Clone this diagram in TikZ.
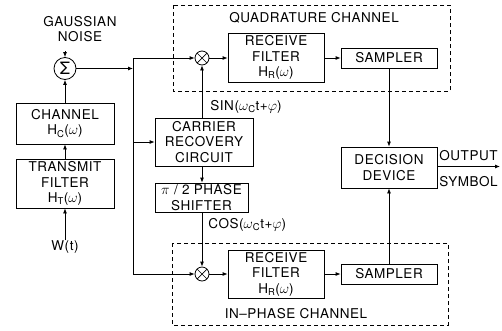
\documentclass[tikz,border=0pt]{standalone}
\usepackage{fontspec}
\setmainfont{TeX Gyre Heros}[LetterSpace=4]
\usetikzlibrary{arrows.meta}

\begin{document}
\begin{tikzpicture}[x=1pt,y=-1pt,
  font=\fontsize{13.5}{15.5}\selectfont,
  line width=0.8pt,
  >={Latex[length=5pt,width=4pt]},
  blk/.style={draw, rectangle, inner sep=0pt, align=center},
  dbox/.style={draw, dash pattern=on 4pt off 3pt, line width=0.7pt},
  mix/.style={draw, circle, minimum size=14pt, inner sep=0pt,
    path picture={\draw[line width=0.7pt]
      (path picture bounding box.north west) -- (path picture bounding box.south east)
      (path picture bounding box.north east) -- (path picture bounding box.south west);}},
  summer/.style={draw, circle, minimum size=22pt, inner sep=0pt,
    font=\fontsize{17}{17}\selectfont},
  lbl/.style={inner sep=0pt, align=center}
]
\useasboundingbox (0,0) rectangle (502,330);

% channel groupings
\draw[dbox] (173,5) rectangle (450,91);
\draw[dbox] (172,243) rectangle (448,325);
\node[lbl] (qlab) at (314,18) {QUADRATURE CHANNEL};
\node[lbl] (ilab) at (296,314) {IN–PHASE CHANNEL};

% transmitter side
\node[lbl] (gn) at (80,29) {GAUSSIAN\\NOISE};
\coordinate (gnb) at (65,51);
\node[summer] (sum) at (65,68.5) {Σ};
\node[blk, minimum width=98pt, minimum height=41pt] (ch) at (65,123.5)
  {CHANNEL\\H\textsubscript{C}($\omega$)};
\node[blk, minimum width=98pt, minimum height=49pt] (tf) at (65,183.5)
  {TRANSMIT\\FILTER\\H\textsubscript{T}($\omega$)};
\node[lbl] (w) at (65,247) {W(t)};

% receiver bus
\coordinate (bt) at (133,58);
\coordinate (bj) at (133,68.5);
\coordinate (bc) at (133,142);
\coordinate (bb) at (133,274);

% mixers and carrier path
\node[mix] (mq) at (202,58) {};
\node[mix] (mi) at (202,274) {};
\node[blk, minimum width=98pt, minimum height=48pt] (crc) at (204,142)
  {CARRIER\\RECOVERY\\CIRCUIT};
\node[blk, minimum width=93pt, minimum height=29pt] (ps) at (201.5,197.5)
  {$\pi$ / 2 PHASE\\SHIFTER};
\node[lbl, anchor=west] (sinl) at (210,107) {SIN($\omega$\textsubscript{C}t+$\varphi$)};
\node[lbl, anchor=west] (cosl) at (208,225) {COS($\omega$\textsubscript{C}t+$\varphi$)};

% receive filters and samplers
\node[blk, minimum width=96pt, minimum height=49pt] (rq) at (276,57.5)
  {RECEIVE\\FILTER\\H\textsubscript{R}($\omega$)};
\node[blk, minimum width=96pt, minimum height=48pt] (ri) at (276,274)
  {RECEIVE\\FILTER\\H\textsubscript{R}($\omega$)};
\node[blk, minimum width=96pt, minimum height=20pt] (sq) at (389,58) {SAMPLER};
\node[blk, minimum width=96pt, minimum height=20pt] (si) at (389,274) {SAMPLER};

% decision
\node[blk, minimum width=96pt, minimum height=41pt] (dd) at (389,167.5)
  {DECISION\\DEVICE};
\coordinate (out) at (500,166.5);
\node[lbl, anchor=west] (outl) at (439,156) {OUTPUT};
\node[lbl, anchor=west] (syml) at (439,182) {SYMBOL};

% connectors
\draw[->] (gnb) -- (sum.north);
\draw[->] (ch.north) -- (sum.south);
\draw[->] (tf.north) -- (ch.south);
\draw[->] (w.north) -- (tf.south);
\draw (bt) -- (bb);
\draw[->] (sum.east) -- (bj);
\draw[->] (bt) -- (mq.west);
\draw[->] (bb) -- (mi.west);
\draw[->] (bc) -- (crc.west);
\draw[->] (crc.north -| mq) -- (mq.south);
\draw[->] (crc.south -| mq) -- (ps.north -| mq);
\draw[->] (ps.south -| mi) -- (mi.north);
\draw[->] (mq.east) -- (mq.east -| rq.west);
\draw[->] (mi.east) -- (mi.east -| ri.west);
\draw[->] (rq.east |- sq) -- (sq.west);
\draw[->] (ri.east |- si) -- (si.west);
\draw[->] (sq.south) -- (dd.north);
\draw[->] (si.north) -- (dd.south);
\draw[->] (dd.east |- out) -- (out);
\end{tikzpicture}
\end{document}
